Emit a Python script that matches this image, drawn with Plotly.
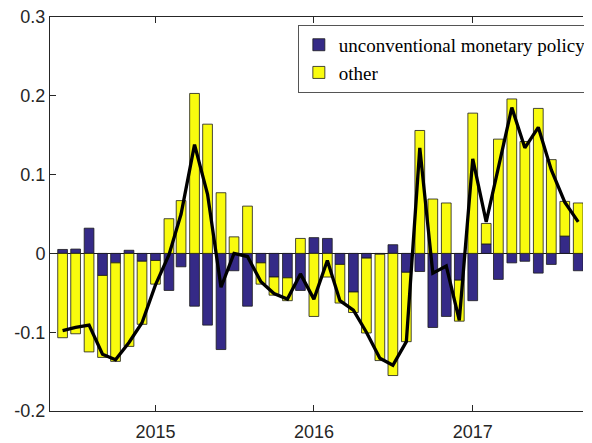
import plotly.graph_objects as go

months = [
    "2014-06", "2014-07", "2014-08", "2014-09", "2014-10", "2014-11", "2014-12",
    "2015-01", "2015-02", "2015-03", "2015-04", "2015-05", "2015-06",
    "2015-07", "2015-08", "2015-09", "2015-10", "2015-11", "2015-12",
    "2016-01", "2016-02", "2016-03", "2016-04", "2016-05", "2016-06",
    "2016-07", "2016-08", "2016-09", "2016-10", "2016-11", "2016-12",
    "2017-01", "2017-02", "2017-03", "2017-04", "2017-05", "2017-06",
    "2017-07", "2017-08", "2017-09",
]

unconventional = [
    0.005, 0.0055, 0.032, -0.028, -0.012, 0.004, -0.010,
    -0.009, -0.047, -0.017, -0.067, -0.091, -0.122,
    -0.022, -0.067, -0.012, -0.030, -0.031, -0.047,
    0.020, 0.019, -0.014, -0.049, -0.006, -0.001,
    0.011, -0.024, -0.023, -0.094, -0.080, -0.034,
    -0.060, 0.012, -0.033, -0.012, -0.010, -0.025,
    -0.014, 0.022, -0.022,
]

other = [
    -0.107, -0.102, -0.125, -0.104, -0.125, -0.118, -0.080,
    -0.030, 0.044, 0.067, 0.203, 0.164, 0.077,
    0.021, 0.060, -0.027, -0.023, -0.029, 0.019,
    -0.080, -0.030, -0.049, -0.026, -0.095, -0.135,
    -0.155, -0.088, 0.156, 0.069, 0.064, -0.052,
    0.178, 0.026, 0.145, 0.196, 0.142, 0.184,
    0.119, 0.044, 0.064,
]

total = [
    -0.098, -0.094, -0.091, -0.128, -0.135, -0.113, -0.088,
    -0.040, -0.002, 0.050, 0.138, 0.075, -0.043,
    0.000, -0.004, -0.036, -0.051, -0.058, -0.026,
    -0.058, -0.009, -0.060, -0.072, -0.100, -0.133,
    -0.142, -0.112, 0.134, -0.025, -0.016, -0.085,
    0.120, 0.040, 0.111, 0.185, 0.134, 0.160,
    0.106, 0.065, 0.040,
]

y_ticks = [-0.2, -0.1, 0, 0.1, 0.2, 0.3]
y_labels = ["-0.2", "-0.1", "0", "0.1", "0.2", "0.3"]
x_ticks = ["2015-01-01", "2016-01-01", "2017-01-01"]
x_labels = ["2015", "2016", "2017"]

axis_col = "#262626"
edge = dict(color="#1a1a1a", width=0.8)

fig = go.Figure()
fig.add_trace(go.Bar(
    x=months, y=unconventional, name="unconventional monetary policy",
    marker=dict(color="rgb(53,42,135)", line=edge),
))
fig.add_trace(go.Bar(
    x=months, y=other, name="other",
    marker=dict(color="rgb(249,251,14)", line=edge),
))
fig.add_trace(go.Scatter(
    x=months, y=total, mode="lines", showlegend=False,
    line=dict(color="black", width=3.3),
))

# page body has an 8px margin, so the margins below are shifted to suit
fig.update_layout(
    width=592, height=443,
    margin=dict(l=42, r=8, t=9, b=40),
    barmode="relative", bargap=0.2,
    paper_bgcolor="white", plot_bgcolor="white",
    font=dict(family="Liberation Sans", size=18, color=axis_col),
    legend=dict(
        x=0.465, xanchor="left", y=0.98, yanchor="top",
        bgcolor="white", bordercolor="#555555", borderwidth=1,
        font=dict(family="Liberation Serif", size=19, color="black"),
        tracegroupgap=0, itemwidth=30,
    ),
)

fig.update_xaxes(
    type="date", range=["2014-05-03", "2017-09-12"], automargin=False,
    tickvals=x_ticks, ticktext=x_labels,
    ticks="inside", ticklen=6, tickcolor=axis_col,
    showline=True, linecolor=axis_col, linewidth=1, mirror="ticks",
    showgrid=False, zeroline=False, ticklabelstandoff=4,
    ticklabeloverflow="allow",
)
fig.update_yaxes(
    range=[-0.2, 0.3], tickvals=y_ticks, ticktext=y_labels, automargin=False,
    ticks="inside", ticklen=6, tickcolor=axis_col,
    showline=True, linecolor=axis_col, linewidth=1,
    showgrid=False, zeroline=True, zerolinecolor="#1a1a1a", zerolinewidth=1,
    ticklabelstandoff=0, ticklabeloverflow="allow",
)

fig.write_html("out.html")
